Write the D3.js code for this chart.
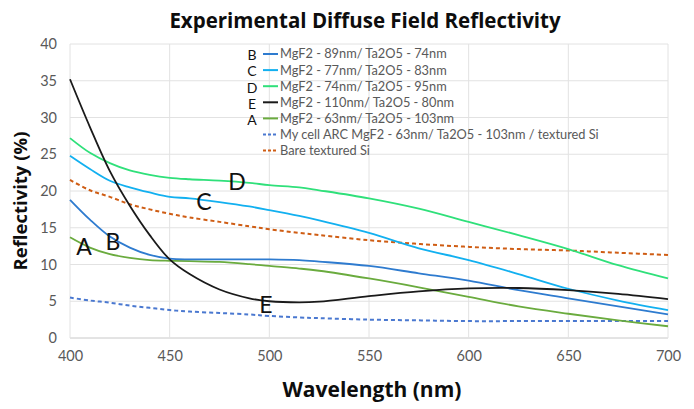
<!DOCTYPE html>
<html>
<head>
<meta charset="utf-8">
<script src="https://cdn.jsdelivr.net/npm/d3@7"></script>
<style>
  body { margin: 0; background: #fff; }
  text { font-family: Lato, "Open Sans", sans-serif; }
</style>
</head>
<body>
<div id="chart"></div>
<script>
var width = 694, height = 409;

var wavelength = [400, 410, 420, 430, 440, 450, 460, 475, 490, 500, 515, 525, 550, 575, 600, 625, 650, 675, 700];

var seriesB = [18.8, 16.1, 13.8, 12.3, 11.3, 10.8, 10.7, 10.7, 10.7, 10.7, 10.6, 10.4, 9.8, 8.8, 7.8, 6.5, 5.4, 4.3, 3.2];
var seriesC = [24.8, 23.0, 21.4, 20.5, 19.8, 19.2, 19.0, 18.5, 17.9, 17.4, 16.6, 16.0, 14.3, 12.2, 10.6, 8.7, 6.7, 5.1, 3.8];
var seriesD = [27.2, 25.2, 23.8, 22.8, 22.2, 21.8, 21.6, 21.4, 21.1, 20.8, 20.5, 20.1, 19.0, 17.6, 15.8, 14.0, 12.1, 9.9, 8.1];
var seriesE = [35.2, 28.7, 22.7, 18.0, 14.0, 10.7, 8.7, 6.6, 5.4, 5.0, 4.85, 4.95, 5.7, 6.35, 6.75, 6.8, 6.5, 6.0, 5.3];
var seriesA = [13.7, 12.3, 11.4, 10.9, 10.6, 10.5, 10.45, 10.35, 10.05, 9.8, 9.45, 9.15, 8.1, 6.9, 5.6, 4.3, 3.3, 2.4, 1.6];
var seriesCell = [5.5, 5.1, 4.8, 4.4, 4.1, 3.8, 3.6, 3.4, 3.2, 3.0, 2.8, 2.7, 2.5, 2.4, 2.3, 2.3, 2.3, 2.3, 2.3];
var seriesBare = [21.5, 20.1, 19.2, 18.2, 17.5, 16.9, 16.4, 15.8, 15.2, 14.8, 14.3, 14.0, 13.3, 12.8, 12.4, 12.1, 11.9, 11.6, 11.3];

var seriesNames = [
  "MgF2 - 89nm/ Ta2O5 - 74nm",
  "MgF2 - 77nm/ Ta2O5 - 83nm",
  "MgF2 - 74nm/ Ta2O5 - 95nm",
  "MgF2 - 110nm/ Ta2O5 - 80nm",
  "MgF2 - 63nm/ Ta2O5 - 103nm",
  "My cell ARC MgF2 - 63nm/ Ta2O5 - 103nm / textured Si",
  "Bare textured Si"
];
var seriesLetters = ["B", "C", "D", "E", "A", "", ""];
var seriesValues = [seriesB, seriesC, seriesD, seriesE, seriesA, seriesCell, seriesBare];
var seriesColors = ["#2e7bcf", "#12b0f0", "#2fe07a", "#1a1a1a", "#6aab3e", "#4a78d0", "#cf5d14"];
var seriesDash = [null, null, null, null, null, "4,3", "4,3"];

// letters written on the curves: [letter, wavelength, reflectivity]
var curveLabels = [["A", 407, 12.4], ["B", 421.6, 13.1], ["C", 467.2, 18.5], ["D", 483.8, 21.2], ["E", 498.3, 4.5]];

var xTicks = [400, 450, 500, 550, 600, 650, 700];
var yTicks = [0, 5, 10, 15, 20, 25, 30, 35, 40];

var x = d3.scaleLinear().domain([400, 700]).range([70, 668]);
var y = d3.scaleLinear().domain([0, 40]).range([338, 44]);

var svg = d3.select("#chart")
  .append("svg")
  .attr("width", width)
  .attr("height", height);

// grid
svg.append("g")
  .selectAll("line.h")
  .data(yTicks)
  .enter()
  .append("line")
  .attr("x1", x(400)).attr("x2", x(700))
  .attr("y1", function (d) { return y(d); })
  .attr("y2", function (d) { return y(d); })
  .style("stroke", function (d) { return d == 0 ? "#c8c8c8" : "#e2e2e2"; })
  .style("stroke-width", 1);

svg.append("g")
  .selectAll("line.v")
  .data(xTicks)
  .enter()
  .append("line")
  .attr("y1", y(0)).attr("y2", y(40))
  .attr("x1", function (d) { return x(d); })
  .attr("x2", function (d) { return x(d); })
  .style("stroke", "#e2e2e2")
  .style("stroke-width", 1);

// axes (labels only, Excel style)
var xAxis = svg.append("g")
  .attr("transform", "translate(0," + y(0) + ")")
  .call(d3.axisBottom(x).tickValues(xTicks).tickSize(0).tickPadding(13));
var yAxis = svg.append("g")
  .attr("transform", "translate(" + x(400) + ",0)")
  .call(d3.axisLeft(y).tickValues(yTicks).tickSize(0).tickPadding(13));
[xAxis, yAxis].forEach(function (a) {
  a.select(".domain").remove();
  a.selectAll("text")
    .style("font-family", "Lato, 'Open Sans', sans-serif")
    .style("font-size", "14.5px")
    .style("fill", "#595959");
});

// lines
var line = d3.line()
  .x(function (d) { return x(d[0]); })
  .y(function (d) { return y(d[1]); })
  .curve(d3.curveCatmullRom.alpha(0.5));

var order = [6, 5, 4, 0, 1, 2, 3];
order.forEach(function (i) {
  svg.append("path")
    .datum(wavelength.map(function (w, j) { return [w, seriesValues[i][j]]; }))
    .attr("d", line)
    .style("fill", "none")
    .style("stroke", seriesColors[i])
    .style("stroke-width", seriesDash[i] ? 2 : 1.8)
    .style("stroke-dasharray", seriesDash[i]);
});

// letters on the curves
svg.append("g")
  .selectAll("text")
  .data(curveLabels)
  .enter()
  .append("text")
  .attr("x", function (d) { return x(d[1]); })
  .attr("y", function (d) { return y(d[2]); })
  .attr("text-anchor", "middle")
  .attr("dy", "0.36em")
  .style("font-size", "23px")
  .style("fill", "#111")
  .text(function (d) { return d[0]; });

// legend
var legend = svg.append("g").attr("transform", "translate(263,54)");
seriesNames.forEach(function (name, i) {
  var row = legend.append("g").attr("transform", "translate(0," + (i * 16.1) + ")");
  row.append("line")
    .attr("x1", 0).attr("x2", 15)
    .style("stroke", seriesColors[i])
    .style("stroke-width", 2)
    .style("stroke-dasharray", seriesDash[i] ? "3,2" : null);
  row.append("text")
    .attr("x", 17).attr("dy", "0.35em")
    .style("font-size", "12.8px")
    .style("fill", "#595959")
    .text(name);
  row.append("text")
    .attr("x", -11).attr("dy", "0.45em")
    .attr("text-anchor", "middle")
    .style("font-size", "14px")
    .style("fill", "#111")
    .text(seriesLetters[i]);
});

// titles
svg.append("text")
  .attr("x", 365).attr("y", 28)
  .attr("text-anchor", "middle")
  .style("font-family", "'Open Sans', sans-serif")
  .style("font-size", "20.5px")
  .style("font-weight", "bold")
  .style("fill", "#0d0d0d")
  .text("Experimental Diffuse Field Reflectivity");

svg.append("text")
  .attr("x", 372).attr("y", 397)
  .attr("text-anchor", "middle")
  .style("font-family", "'Open Sans', sans-serif")
  .style("font-size", "21px")
  .style("font-weight", "bold")
  .style("fill", "#0d0d0d")
  .text("Wavelength (nm)");

svg.append("text")
  .attr("transform", "translate(27,201) rotate(-90)")
  .attr("text-anchor", "middle")
  .style("font-family", "'Open Sans', sans-serif")
  .style("font-size", "18.5px")
  .style("font-weight", "bold")
  .style("fill", "#0d0d0d")
  .text("Reflectivity (%)");
</script>
</body>
</html>
